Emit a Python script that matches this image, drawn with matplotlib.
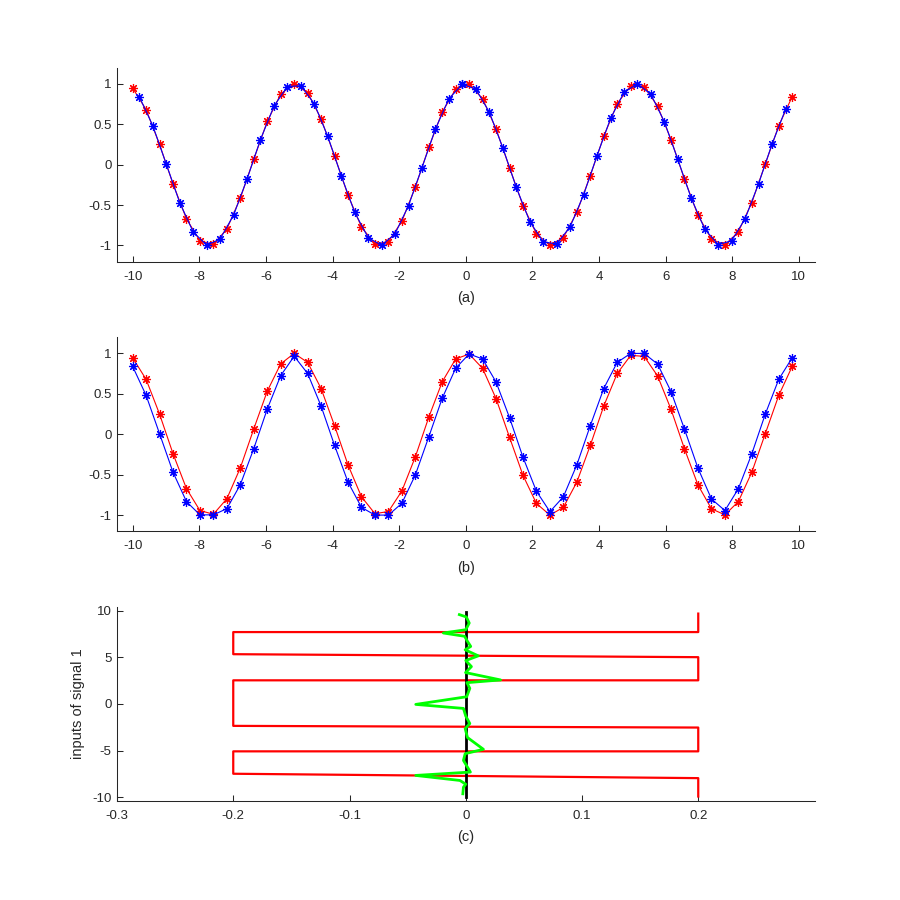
import matplotlib
matplotlib.use('Agg')
import matplotlib.pyplot as plt
import numpy as np

plt.rcParams['font.family'] = ['Liberation Sans', 'DejaVu Sans']
plt.rcParams['axes.unicode_minus'] = False

# ---------------- data ----------------
# sample positions of signal 1 / signal 2
x_sig = [-10.000, -9.596, -9.192, -8.788, -8.384, -7.980, -7.576, -7.171, -6.767, -6.363,
         -5.959, -5.555, -5.151, -4.747, -4.343, -3.939, -3.535, -3.131, -2.727, -2.322,
         -1.918, -1.514, -1.110, -0.706, -0.302, 0.102, 0.506, 0.910, 1.314, 1.718,
         2.122, 2.527, 2.931, 3.335, 3.739, 4.143, 4.547, 4.951, 5.355, 5.759,
         6.163, 6.567, 6.971, 7.376, 7.780, 8.184, 8.588, 8.992, 9.396, 9.800]

# signal 1 (red)
sig1 = [0.946, 0.679, 0.249, -0.240, -0.672, -0.943, -0.988, -0.796, -0.414, 0.068,
        0.533, 0.871, 1.000, 0.889, 0.566, 0.107, -0.378, -0.772, -0.981, -0.955,
        -0.701, -0.279, 0.211, 0.649, 0.932, 0.992, 0.814, 0.441, -0.037, -0.507,
        -0.855, -0.999, -0.903, -0.591, -0.137, 0.349, 0.752, 0.975, 0.964, 0.722,
        0.308, -0.181, -0.626, -0.921, -0.996, -0.832, -0.469, 0.007, 0.480, 0.839]

# signal 2 (blue) at the same sample positions, panel (b)
sig2 = [0.839, 0.481, 0.007, -0.469, -0.832, -0.996, -0.996, -0.919, -0.622, -0.176,
        0.312, 0.726, 0.965, 0.752, 0.349, -0.137, -0.591, -0.903, -0.999, -0.999,
        -0.853, -0.503, -0.032, 0.446, 0.817, 0.993, 0.931, 0.646, 0.206, -0.283,
        -0.704, -0.957, -0.772, -0.378, 0.107, 0.566, 0.889, 1.000, 1.000, 0.868,
        0.529, 0.063, -0.418, -0.799, -0.943, -0.673, -0.241, 0.249, 0.679, 0.946]

# signal 2 after alignment, panel (a)
x_aligned = [-9.800, -9.396, -8.992, -8.588, -8.184, -7.780, -7.376, -6.971, -6.567, -6.163,
             -5.759, -5.355, -4.951, -4.547, -4.143, -3.739, -3.335, -2.931, -2.527, -2.122,
             -1.718, -1.314, -0.910, -0.506, -0.102, -0.098, 0.306, 0.710, 1.114, 1.518,
             1.922, 2.327, 2.731, 3.135, 3.539, 3.943, 4.347, 4.751, 5.155, 5.559,
             5.963, 6.367, 6.771, 7.176, 7.580, 7.984, 8.388, 8.792, 9.196, 9.600]
sig2_aligned = [0.839, 0.481, 0.007, -0.469, -0.832, -0.996, -0.921, -0.626, -0.181, 0.308,
                0.722, 0.964, 0.975, 0.752, 0.349, -0.137, -0.591, -0.903, -0.999, -0.855,
                -0.507, -0.038, 0.441, 0.814, 0.992, 0.993, 0.931, 0.646, 0.206, -0.283,
                -0.704, -0.957, -0.980, -0.769, -0.373, 0.112, 0.570, 0.892, 1.000, 0.868,
                0.529, 0.063, -0.418, -0.799, -0.989, -0.942, -0.669, -0.236, 0.254, 0.682]

# panel (c): estimated shift (red), zero line (black), residual (green)
shift_x = [0.2, 0.2, -0.2, -0.2, 0.2, 0.2, -0.2, -0.2, 0.2, 0.2, -0.2, -0.2, 0.2, 0.2]
shift_y = [9.68, 7.70, 7.70, 5.33, 5.01, 2.53, 2.53, -2.35, -2.53, -5.08, -5.08, -7.48, -7.95, -9.92]

zero_x = [0.0, 0.0]
zero_y = [-10.0, 9.8]

resid_x = [-0.0055, 0.0005, 0.0030, 0.0000, -0.0193, -0.0010, 0.0015, 0.0043, -0.0005, 0.0108,
           0.0000, 0.0049, -0.0002, 0.0300, 0.0010, 0.0035, 0.0008, -0.0430, -0.0020, 0.0000,
           0.0035, -0.0005, 0.0015, 0.0152, -0.0005, -0.0020, 0.0040, -0.0430, -0.0050, 0.0000,
           -0.0020, -0.0025]
resid_y = [9.57, 9.32, 8.67, 7.95, 7.60, 7.25, 6.70, 6.16, 5.80, 5.15,
           4.65, 4.00, 3.36, 2.57, 2.28, 1.67, 0.77, -0.05, -0.48, -1.30,
           -2.10, -2.64, -3.60, -4.86, -5.33, -6.05, -7.30, -7.66, -8.20, -8.60,
           -8.92, -9.63]

xt_ab = [-10, -8, -6, -4, -2, 0, 2, 4, 6, 8, 10]
xt_ab_lbl = ['-10', '-8', '-6', '-4', '-2', '0', '2', '4', '6', '8', '10']
yt_ab = [-1, -0.5, 0, 0.5, 1]
yt_ab_lbl = ['-1', '-0.5', '0', '0.5', '1']
xt_c = [-0.3, -0.2, -0.1, 0, 0.1, 0.2]
xt_c_lbl = ['-0.3', '-0.2', '-0.1', '0', '0.1', '0.2']
yt_c = [-10, -5, 0, 5, 10]
yt_c_lbl = ['-10', '-5', '0', '5', '10']

# ---------------- drawing ----------------
AX_COL = '#262626'
STAR = (8, 2, 0)
TICK_FS = 9.5
LBL_FS = 10.5

fig = plt.figure(figsize=(9, 9), dpi=100)


def style(ax):
    for s in ('top', 'right'):
        ax.spines[s].set_visible(False)
    for s in ('left', 'bottom'):
        ax.spines[s].set_color(AX_COL)
        ax.spines[s].set_linewidth(0.75)
    ax.tick_params(direction='in', length=4.5, width=0.75, color=AX_COL,
                   labelcolor=AX_COL, labelsize=TICK_FS)
    ax.tick_params(axis='x', pad=6.5)
    ax.tick_params(axis='y', pad=4)


ax1 = fig.add_axes([0.13, 0.7093, 0.775, 0.2157])
ax1.plot(x_sig, sig1, color='red', lw=0.8, marker=STAR, ms=6.5, mew=0.85)
ax1.plot(x_aligned, sig2_aligned, color='blue', lw=0.8, marker=STAR, ms=6.5, mew=0.85)
ax1.set_xlim(-10.47, 10.47)
ax1.set_ylim(-1.2, 1.2)
ax1.set_xticks(xt_ab)
ax1.set_xticklabels(xt_ab_lbl)
ax1.set_yticks(yt_ab)
ax1.set_yticklabels(yt_ab_lbl)
ax1.set_xlabel('(a)', fontsize=LBL_FS, color=AX_COL, labelpad=6)
style(ax1)

ax2 = fig.add_axes([0.13, 0.4096, 0.775, 0.2157])
ax2.plot(x_sig, sig1, color='red', lw=0.8, marker=STAR, ms=6.5, mew=0.85)
ax2.plot(x_sig, sig2, color='blue', lw=0.8, marker=STAR, ms=6.5, mew=0.85)
ax2.set_xlim(-10.47, 10.47)
ax2.set_ylim(-1.2, 1.2)
ax2.set_xticks(xt_ab)
ax2.set_xticklabels(xt_ab_lbl)
ax2.set_yticks(yt_ab)
ax2.set_yticklabels(yt_ab_lbl)
ax2.set_xlabel('(b)', fontsize=LBL_FS, color=AX_COL, labelpad=6)
style(ax2)

ax3 = fig.add_axes([0.13, 0.11, 0.775, 0.2157])
ax3.plot(shift_x, shift_y, color='red', lw=1.6)
ax3.plot(zero_x, zero_y, color='black', lw=2.0)
ax3.plot(resid_x, resid_y, color=(0, 1, 0), lw=2.0)
ax3.set_xlim(-0.3, 0.3)
ax3.set_ylim(-10.4, 10.4)
ax3.set_xticks(xt_c)
ax3.set_xticklabels(xt_c_lbl)
ax3.set_yticks(yt_c)
ax3.set_yticklabels(yt_c_lbl)
ax3.set_xlabel('(c)', fontsize=LBL_FS, color=AX_COL, labelpad=6)
ax3.set_ylabel('inputs of signal 1', fontsize=LBL_FS, color=AX_COL, labelpad=5)
style(ax3)

fig.savefig('out.png', dpi=100)
